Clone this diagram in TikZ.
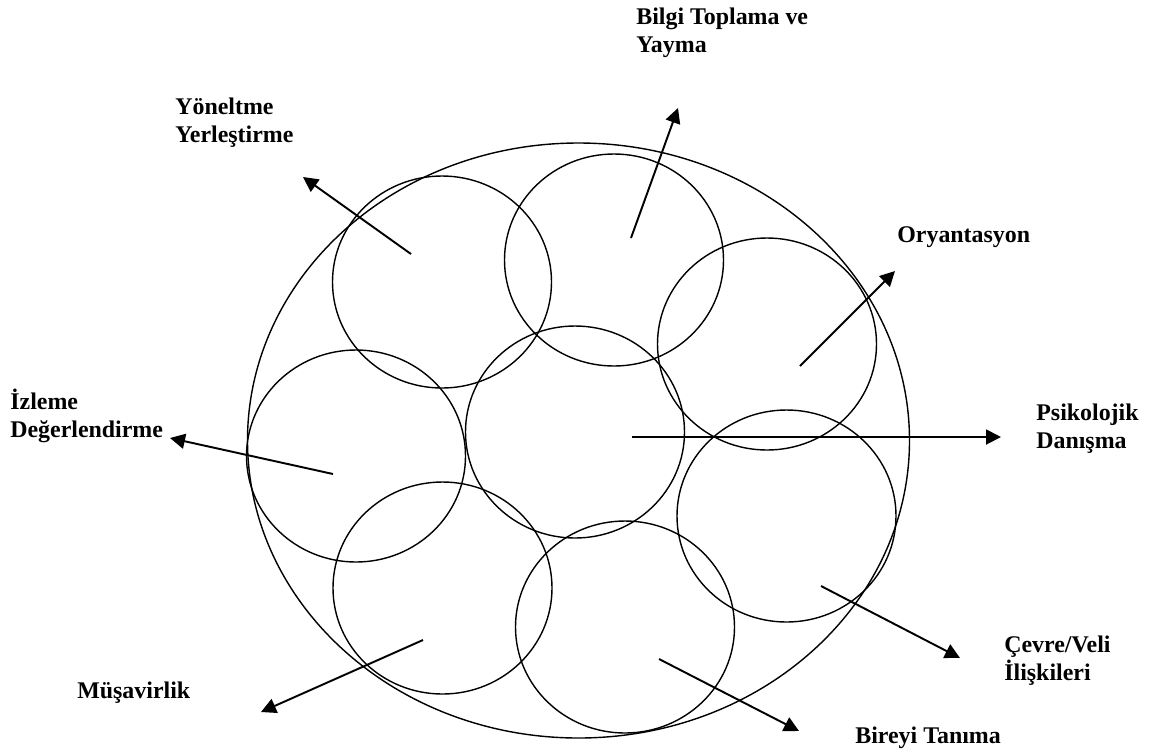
\documentclass[tikz,border=0pt]{standalone}
\usepackage{fontspec}
\setmainfont{Liberation Serif}
\usetikzlibrary{arrows.meta}

\tikzset{
    daire/.style={line width=0.8pt},
    ok/.style={line width=1.1pt, -{Triangle[length=0.3cm,width=0.3cm]}},
    etiket/.style={font=\bfseries\fontsize{13.6}{15.4}\selectfont, align=left, anchor=base west, inner sep=0pt}
}

\begin{document}
\begin{tikzpicture}[x=0.02cm,y=-0.02cm]
    \useasboundingbox (0,0) rectangle (1153,755);

    %dis cember
    \draw[daire] (578.5,440.5) ellipse [x radius=331, y radius=297.5];

    %daireler
    \draw[daire] (575,432) ellipse [x radius=109.5, y radius=106];
    \draw[daire] (442,282) ellipse [x radius=109.5, y radius=106];
    \draw[daire] (614,260) ellipse [x radius=109.5, y radius=106];
    \draw[daire] (767,344) ellipse [x radius=109.5, y radius=106];
    \draw[daire] (786.5,516) ellipse [x radius=109.5, y radius=106];
    \draw[daire] (625,627) ellipse [x radius=109.5, y radius=106];
    \draw[daire] (442.5,588) ellipse [x radius=109.5, y radius=106];
    \draw[daire] (356,456) ellipse [x radius=109.5, y radius=106];

    %etiketler (iki satirlilarda taban cizgisi alt satirda)
    \node[etiket] (bilgi) at (636,52) {Bilgi Toplama ve\\Yayma};
    \node[etiket] (yonelt) at (175,142) {Yöneltme\\Yerleştirme};
    \node[etiket] (izleme) at (10,437) {İzleme\\Değerlendirme};
    \node[etiket] (oryan) at (897,242) {Oryantasyon};
    \node[etiket] (psiko) at (1036,448) {Psikolojik\\Danışma};
    \node[etiket] (cevre) at (1004,680) {Çevre/Veli\\İlişkileri};
    \node[etiket] (birey) at (855,743) {Bireyi Tanıma};
    \node[etiket] (musav) at (77,698) {Müşavirlik};

    %oklar
    \coordinate (yoneltA) at (411,254);
    \coordinate (yoneltB) at (303,177);
    \coordinate (bilgiA) at (631,238);
    \coordinate (bilgiB) at (678,108);
    \coordinate (oryanA) at (800,366);
    \coordinate (oryanB) at (895,271);
    \coordinate (psikoA) at (632,437);
    \coordinate (psikoB) at (1001,437);
    \coordinate (cevreA) at (821,586);
    \coordinate (cevreB) at (960,658);
    \coordinate (bireyA) at (659,659);
    \coordinate (bireyB) at (799,731);
    \coordinate (musavA) at (423,640);
    \coordinate (musavB) at (261,712);
    \coordinate (izlemeA) at (333,474);
    \coordinate (izlemeB) at (170,438);

    \draw[ok] (yoneltA) -- (yoneltB);
    \draw[ok] (bilgiA) -- (bilgiB);
    \draw[ok] (oryanA) -- (oryanB);
    \draw[ok] (psikoA) -- (psikoB);
    \draw[ok] (cevreA) -- (cevreB);
    \draw[ok] (bireyA) -- (bireyB);
    \draw[ok] (musavA) -- (musavB);
    \draw[ok] (izlemeA) -- (izlemeB);
\end{tikzpicture}
\end{document}
